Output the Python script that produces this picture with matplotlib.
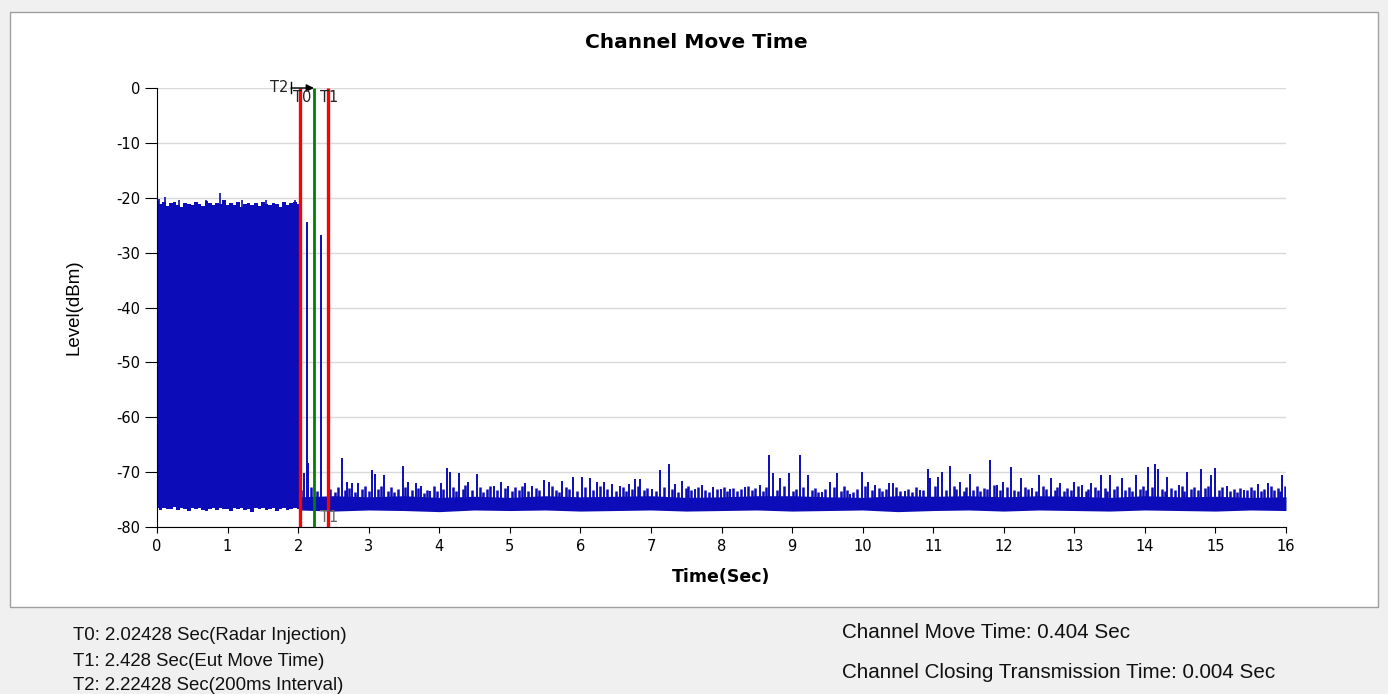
import matplotlib
matplotlib.use("Agg")
import matplotlib.pyplot as plt
from matplotlib.patches import Rectangle
import numpy as np

plt.rcParams['axes.unicode_minus'] = False

# marker times (sec)
t0 = 2.02428
t1 = 2.428
t2 = 2.22428

# radar burst before T0: top and bottom edge of the dense trace, every 0.05 s
burst_t = [0.00, 0.05, 0.10, 0.15, 0.20, 0.25, 0.30, 0.35, 0.40, 0.45,
           0.50, 0.55, 0.60, 0.65, 0.70, 0.75, 0.80, 0.85, 0.90, 0.95,
           1.00, 1.05, 1.10, 1.15, 1.20, 1.25, 1.30, 1.35, 1.40, 1.45,
           1.50, 1.55, 1.60, 1.65, 1.70, 1.75, 1.80, 1.85, 1.90, 1.95, 2.02]
burst_top = [-20.6, -21.2, -20.8, -21.5, -21.0, -20.7, -21.3, -21.6, -20.9, -21.2,
             -21.4, -20.8, -21.1, -21.5, -20.6, -21.0, -21.3, -20.9, -21.2, -20.5,
             -21.4, -21.0, -21.3, -20.8, -21.6, -21.1, -20.9, -21.3, -21.0, -21.5,
             -20.8, -21.2, -21.4, -20.9, -21.1, -21.6, -20.8, -21.3, -21.0, -20.7, -21.2]
burst_floor = [-76.6, -76.9, -76.5, -76.8, -76.7, -76.4, -76.9, -76.6, -76.8, -77.0,
               -76.6, -76.8, -76.5, -76.9, -77.1, -76.7, -76.6, -76.9, -76.5, -76.8,
               -76.7, -77.0, -76.6, -76.8, -76.5, -76.9, -76.7, -77.2, -76.6, -76.8,
               -76.5, -76.9, -76.7, -76.6, -77.0, -76.8, -76.6, -76.9, -76.7, -76.5, -76.8]
burst_spk_t = [0.03, 0.11, 0.31, 0.70, 0.89, 1.21, 1.55, 1.95]
burst_spk_v = [-20.3, -19.9, -20.4, -20.4, -19.2, -20.5, -20.5, -20.4]

# noise floor after the move: dense band every 0.5 s
band_t = [2.02, 2.5, 3.0, 3.5, 4.0, 4.5, 5.0, 5.5, 6.0, 6.5, 7.0, 7.5, 8.0, 8.5, 9.0,
          9.5, 10.0, 10.5, 11.0, 11.5, 12.0, 12.5, 13.0, 13.5, 14.0, 14.5, 15.0, 15.5, 16.0]
band_top = [-74.5, -74.3, -74.5, -74.3, -74.6, -74.4, -74.6, -74.3, -74.5, -74.4, -74.3, -74.6,
            -74.5, -74.3, -74.3, -74.5, -74.6, -74.3, -74.4, -74.3, -74.5, -74.3, -74.4, -74.6,
            -74.3, -74.5, -74.4, -74.6, -74.5]
band_floor = [-76.9, -77.1, -76.9, -77.0, -77.2, -76.9, -77.0, -76.9, -77.1, -77.0, -76.9, -77.1,
              -77.0, -76.9, -77.1, -77.0, -76.9, -77.2, -77.0, -76.9, -77.1, -76.9, -77.0, -77.1,
              -76.9, -77.0, -77.1, -76.9, -77.0]

# small ripples on top of the floor
ripple_t = [2.04, 2.18, 2.27, 2.45, 2.52, 2.57, 2.66, 2.72, 2.81, 2.90, 2.95, 3.00, 3.13, 3.17, 3.27,
            3.31, 3.36, 3.42, 3.52, 3.61, 3.70, 3.79, 3.83, 3.92, 3.97, 4.06, 4.20, 4.24, 4.33, 4.37,
            4.46, 4.58, 4.62, 4.68, 4.72, 4.82, 4.93, 5.03, 5.08, 5.13, 5.17, 5.26, 5.37, 5.42, 5.60,
            5.65, 5.69, 5.79, 5.84, 5.95, 6.07, 6.18, 6.28, 6.38, 6.50, 6.61, 6.65, 6.73, 6.81, 6.90,
            6.95, 7.07, 7.18, 7.30, 7.39, 7.49, 7.53, 7.57, 7.67, 7.77, 7.82, 7.93, 8.04, 8.08, 8.17,
            8.22, 8.27, 8.38, 8.43, 8.48, 8.59, 8.63, 8.78, 8.88, 9.01, 9.06, 9.16, 9.28, 9.33, 9.37,
            9.47, 9.59, 9.69, 9.74, 9.78, 9.87, 9.92, 10.03, 10.13, 10.23, 10.28, 10.33, 10.48, 10.53,
            10.65, 10.70, 10.75, 10.86, 11.02, 11.18, 11.29, 11.33, 11.43, 11.47, 11.57, 11.62, 11.67,
            11.72, 11.76, 11.86, 11.95, 12.04, 12.15, 12.20, 12.30, 12.35, 12.45, 12.55, 12.60, 12.72,
            12.76, 12.85, 12.90, 12.95, 13.05, 13.16, 13.20, 13.29, 13.33, 13.43, 13.47, 13.56, 13.61,
            13.72, 13.77, 13.82, 13.93, 13.98, 14.02, 14.10, 14.24, 14.28, 14.37, 14.42, 14.53, 14.56,
            14.65, 14.70, 14.75, 14.85, 14.89, 15.05, 15.10, 15.21, 15.26, 15.31, 15.35, 15.45, 15.50,
            15.55, 15.65, 15.69, 15.79, 15.83, 15.88, 15.92, 15.98]
ripple_v = [-73.2, -72.8, -73.4, -73.0, -73.6, -72.7, -73.3, -72.9, -73.7, -73.1, -72.6, -73.5,
            -73.0, -72.5, -73.4, -72.8, -73.6, -73.1, -72.7, -73.3, -72.9, -73.8, -73.2, -72.5,
            -73.4, -73.0, -72.7, -73.5, -73.1, -72.4, -73.2, -72.8, -73.6, -73.0, -72.6, -73.3,
            -72.9, -73.5, -72.7, -73.2, -72.5, -73.4, -72.9, -73.3, -72.6, -73.2, -73.7, -72.8,
            -73.1, -73.4, -72.7, -73.2, -72.6, -73.0, -73.4, -72.8, -73.5, -73.0, -72.6, -73.3,
            -72.9, -73.4, -72.7, -73.1, -73.6, -72.9, -72.5, -73.3, -72.8, -73.2, -73.6, -73.0,
            -72.7, -73.4, -72.9, -73.5, -73.1, -72.6, -73.3, -72.9, -73.5, -72.8, -73.2, -72.5,
            -73.4, -73.0, -72.7, -73.3, -72.9, -73.6, -73.1, -72.8, -73.4, -72.6, -73.2, -73.7,
            -73.0, -72.6, -73.3, -72.9, -73.5, -73.1, -72.7, -73.4, -73.0, -73.6, -72.8, -73.3,
            -72.6, -73.2, -72.5, -73.0, -73.4, -72.8, -73.2, -72.6, -73.5, -72.9, -73.1, -72.4,
            -73.3, -72.8, -73.2, -73.5, -72.7, -73.1, -73.4, -72.6, -73.0, -73.3, -72.8, -73.5,
            -72.9, -73.2, -72.6, -73.4, -73.0, -72.7, -73.3, -72.9, -73.5, -73.1, -72.6, -73.2,
            -72.8, -73.4, -73.0, -72.5, -73.3, -72.7, -73.1, -73.5, -72.9, -73.2, -72.6, -73.4,
            -73.0, -72.7, -73.3, -72.9, -72.5, -73.2, -72.8, -73.4, -73.1, -73.6, -72.9, -73.3,
            -72.7, -73.2, -73.5, -73.0, -72.6, -73.3, -72.9, -73.4, -72.5]

# spikes above the noise floor (time, level)
spike_t = [2.09, 2.13, 2.14, 2.33, 2.62, 2.69, 2.76, 2.85, 3.04, 3.09, 3.22, 3.49, 3.56, 3.67,
           3.74, 3.87, 4.02, 4.11, 4.15, 4.28, 4.41, 4.53, 4.77, 4.88, 4.98, 5.21, 5.32, 5.49,
           5.55, 5.74, 5.90, 6.02, 6.14, 6.23, 6.33, 6.45, 6.56, 6.69, 6.77, 6.85, 7.02, 7.13,
           7.26, 7.34, 7.44, 7.62, 7.72, 7.88, 7.99, 8.12, 8.33, 8.54, 8.67, 8.73, 8.83, 8.96,
           9.11, 9.23, 9.42, 9.54, 9.64, 9.82, 9.99, 10.08, 10.18, 10.38, 10.43, 10.60, 10.81,
           10.93, 10.96, 11.07, 11.13, 11.24, 11.38, 11.52, 11.81, 11.91, 11.99, 12.10, 12.25,
           12.40, 12.50, 12.67, 12.80, 13.00, 13.11, 13.24, 13.38, 13.51, 13.67, 13.88, 14.05,
           14.14, 14.19, 14.32, 14.48, 14.60, 14.80, 14.94, 15.00, 15.16, 15.40, 15.60, 15.74, 15.95]
spike_v = [-70.2, -24.4, -68.3, -26.8, -67.5, -71.8, -72.0, -71.9, -69.7, -70.3, -70.5, -68.9,
           -71.8, -72.0, -72.5, -73.4, -72.0, -69.3, -69.9, -70.1, -71.8, -70.3, -72.5, -71.8,
           -72.5, -72.0, -72.5, -71.4, -71.8, -71.6, -70.9, -70.9, -71.0, -71.8, -71.8, -72.2,
           -72.5, -72.2, -71.2, -71.3, -73.1, -69.6, -68.5, -72.2, -71.6, -73.1, -72.4, -72.7,
           -73.1, -73.1, -72.8, -72.4, -66.8, -70.1, -71.0, -70.1, -66.9, -70.6, -73.6, -71.8,
           -70.1, -74.0, -70.0, -71.8, -72.4, -72.0, -71.9, -73.4, -73.2, -69.5, -71.0, -70.8,
           -70.0, -68.9, -71.8, -70.3, -67.7, -72.4, -71.8, -69.1, -71.0, -72.9, -70.6, -71.0,
           -72.0, -71.8, -72.4, -72.0, -70.6, -70.6, -71.0, -70.6, -69.0, -68.5, -69.5, -70.8,
           -72.4, -70.0, -69.4, -70.6, -69.2, -72.5, -73.2, -72.2, -72.0, -70.6]

W, H = 1388, 694
trace = '#0c0cb8'

fig = plt.figure(figsize=(W / 100, H / 100), dpi=100, facecolor='#f0f0f0')
panel = Rectangle((10 / W, 1 - 607 / H), 1368 / W, 595 / H, transform=fig.transFigure,
                  facecolor='white', edgecolor='#a0a0a0', lw=1, zorder=-5)
fig.patches.append(panel)
ax = fig.add_axes([157 / W, 1 - 527 / H, 1129 / W, 439 / H])
ax.set_zorder(2)

ax.fill_between(burst_t, burst_floor, burst_top, step='mid', color=trace, lw=0, zorder=2)
ax.vlines(burst_spk_t, -22, burst_spk_v, color=trace, lw=1.2, zorder=2)
ax.fill_between(band_t, band_floor, band_top, color=trace, lw=0, zorder=2)
ax.vlines(ripple_t, -75.0, ripple_v, color=trace, lw=1.8, zorder=2)
ax.vlines(spike_t, -75, spike_v, color=trace, lw=1.4, zorder=2)

ax.vlines([t0, t1], -80, 0, color='#ff0000', lw=2.4, zorder=5)
ax.vlines([t2], -80, 0, color='#008000', lw=2.0, zorder=5)

# T2 interval marker
ax.plot([1.90, 1.90], [1.1, -1.0], color='k', lw=1, clip_on=False, zorder=6)
ax.annotate('', xy=(t2, 0), xytext=(1.90, 0),
            arrowprops=dict(arrowstyle='-|>', color='k', lw=1, shrinkA=0, shrinkB=0,
                            mutation_scale=11), zorder=6, annotation_clip=False)
ax.text(1.86, 0, 'T2', ha='right', va='center', fontsize=10.5, color='#222222', zorder=7)
ax.text(1.93, -1.7, 'T0', ha='left', va='center', fontsize=10.5, color='#222222', zorder=7)
ax.text(2.31, -1.7, 'T1', ha='left', va='center', fontsize=10.5, color='#222222', zorder=7)
ax.text(2.31, -78.2, 'T1', ha='left', va='center', fontsize=10.5, color='#666666', zorder=7)

ax.set_xlim(0, 16)
ax.set_ylim(-80, 0)
ax.set_xticks(range(0, 17))
ax.set_yticks(range(-80, 1, 10))
ax.yaxis.grid(True, color='#d9d9d9', lw=1)
ax.set_axisbelow(True)
for s in ['top', 'right']:
    ax.spines[s].set_visible(False)
ax.tick_params(axis='y', length=9, pad=3, labelsize=10.5)
ax.tick_params(axis='x', length=4.5, pad=4, labelsize=10.5)

fig.text(696 / W, 1 - 43 / H, 'Channel Move Time', ha='center', va='center',
         fontsize=14.5, fontweight='bold')
fig.text(721 / W, 1 - 577 / H, 'Time(Sec)', ha='center', va='center',
         fontsize=12.5, fontweight='bold')
fig.text(74 / W, 1 - 307 / H, 'Level(dBm)', ha='center', va='center', rotation=90,
         fontsize=13.5, family='Liberation Sans')

fig.text(73 / W, 1 - 635 / H, 'T0: 2.02428 Sec(Radar Injection)', ha='left', va='center',
         fontsize=13.4, family='Liberation Sans', color='#111111')
fig.text(73 / W, 1 - 661 / H, 'T1: 2.428 Sec(Eut Move Time)', ha='left', va='center',
         fontsize=13.4, family='Liberation Sans', color='#111111')
fig.text(73 / W, 1 - 685 / H, 'T2: 2.22428 Sec(200ms Interval)', ha='left', va='center',
         fontsize=13.4, family='Liberation Sans', color='#111111')
fig.text(842 / W, 1 - 633 / H, 'Channel Move Time: 0.404 Sec', ha='left', va='center',
         fontsize=14.9, family='Liberation Sans', color='#111111')
fig.text(842 / W, 1 - 672 / H, 'Channel Closing Transmission Time: 0.004 Sec', ha='left',
         va='center', fontsize=14.9, family='Liberation Sans', color='#111111')

fig.savefig('out.png', dpi=100, facecolor=fig.get_facecolor())
